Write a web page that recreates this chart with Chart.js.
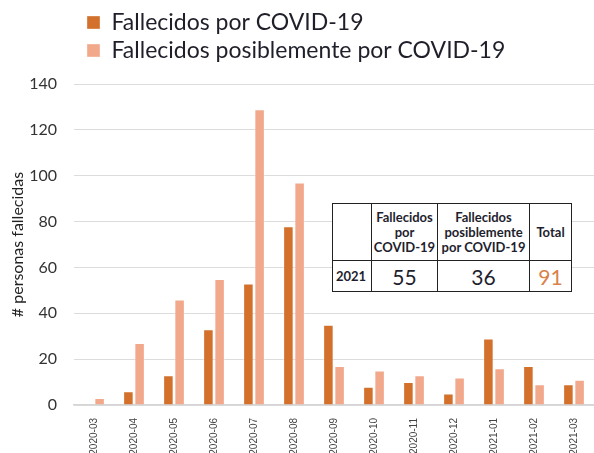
<!DOCTYPE html>
<html>
<head>
<meta charset="utf-8">
<script src="https://cdn.jsdelivr.net/npm/chart.js@4/dist/chart.umd.min.js"></script>
<style>
	html, body { margin: 0; padding: 0; background: #fff; }
	#wrap { position: relative; width: 594px; height: 453px; overflow: hidden; }
	#summary {
		position: absolute; left: 332px; top: 203px;
		border-collapse: collapse; background: #fff;
		font-family: Lato, "Noto Sans", sans-serif; color: #1e1e2e;
	}
	#summary td { border: 1.5px solid #222; text-align: center; padding: 0; line-height: 15px; }
	#summary .head td { height: 56px; font-weight: bold; font-size: 13px; }
	#summary .vals td { height: 30px; font-size: 21px; }
	#summary .vals td.year { font-size: 13px; font-weight: bold; text-align: left; padding-left: 3px; }
	#summary .vals td.total { color: #d9824a; }
</style>
</head>
<body>
<div id="wrap">
	<canvas id="chart" width="594" height="453"></canvas>
	<table id="summary">
		<tr class="head">
			<td style="width:38px"></td>
			<td style="width:65px">Fallecidos<br>por<br>COVID-19</td>
			<td style="width:91px">Fallecidos<br>posiblemente<br>por COVID-19</td>
			<td style="width:41px">Total</td>
		</tr>
		<tr class="vals">
			<td class="year" id="t-year"></td>
			<td id="t-conf"></td>
			<td id="t-pos"></td>
			<td class="total" id="t-total"></td>
		</tr>
	</table>
</div>
<script>
	const months = ['2020-03', '2020-04', '2020-05', '2020-06', '2020-07', '2020-08', '2020-09',
		'2020-10', '2020-11', '2020-12', '2021-01', '2021-02', '2021-03'];
	const confirmed = [0, 6, 13, 33, 53, 78, 35, 8, 10, 5, 29, 17, 9];
	const possible = [3, 27, 46, 55, 129, 97, 17, 15, 13, 12, 16, 9, 11];
	const yTicks = [0, 20, 40, 60, 80, 100, 120, 140];

	// 2021 summary shown in the table
	const summaryYear = '2021';
	const summaryConfirmed = 55;
	const summaryPossible = 36;

	document.getElementById('t-year').textContent = summaryYear;
	document.getElementById('t-conf').textContent = summaryConfirmed;
	document.getElementById('t-pos').textContent = summaryPossible;
	document.getElementById('t-total').textContent = summaryConfirmed + summaryPossible;

	const darkOrange = '#d2702c';
	const lightOrange = '#f2a98b';
	const gothic = 'Lato, "Noto Sans", sans-serif';

	// move the legend over the plot and a bit up, like the original
	const legendShift = {
		id: 'legendShift',
		afterLayout(chart) {
			if (!chart.legend) return;
			chart.legend.left = 82;
			chart.legend.top -= 12;
		}
	};

	new Chart(document.getElementById('chart'), {
		type: 'bar',
		data: {
			labels: months,
			datasets: [
				{
					label: 'Fallecidos por COVID-19',
					data: confirmed,
					backgroundColor: darkOrange,
					borderColor: 'rgba(255,255,255,0.35)',
					borderWidth: 1
				},
				{
					label: 'Fallecidos posiblemente por COVID-19',
					data: possible,
					backgroundColor: lightOrange,
					borderColor: 'rgba(255,255,255,0.35)',
					borderWidth: 1
				}
			]
		},
		options: {
			responsive: false,
			animation: false,
			devicePixelRatio: 1,
			layout: { padding: { top: 18, left: 8, right: -6, bottom: 0 } },
			datasets: { bar: { categoryPercentage: 0.56, barPercentage: 0.94 } },
			plugins: {
				tooltip: { enabled: false },
				legend: {
					position: 'top',
					align: 'start',
					labels: {
						boxWidth: 13,
						boxHeight: 13,
						padding: 5,
						color: '#1f1f2a',
						font: { family: gothic, size: 23 }
					}
				}
			},
			scales: {
				x: {
					afterFit: axis => { axis.height = 48; },
					grid: { display: false },
					border: { color: '#d6d6d6', width: 1.5 },
					ticks: {
						minRotation: 90,
						maxRotation: 90,
						padding: 5,
						color: '#444',
						font: { family: '"Liberation Sans", Arial, sans-serif', size: 10 }
					}
				},
				y: {
					min: 0,
					max: 140,
					afterBuildTicks: axis => { axis.ticks = yTicks.map(v => ({ value: v })); },
					afterFit: axis => { axis.width = 66; },
					grid: { color: '#dcdcdc', drawTicks: false },
					border: { display: false },
					title: {
						display: true,
						text: '# personas fallecidas',
						color: '#222',
						padding: { top: 0, bottom: 2 },
						font: { family: gothic, size: 16 }
					},
					ticks: {
						padding: 17,
						color: '#333',
						font: { family: gothic, size: 16 }
					}
				}
			}
		},
		plugins: [legendShift]
	});
</script>
</body>
</html>
